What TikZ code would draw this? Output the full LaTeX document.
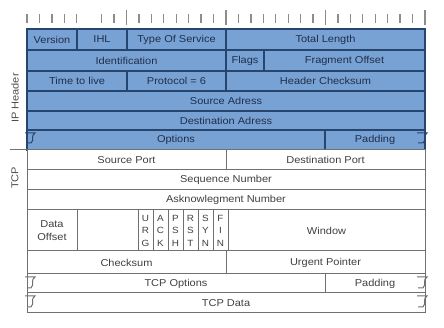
\documentclass[tikz,border=0pt]{standalone}
\usepackage{fontspec}
\setmainfont{Liberation Sans}[FakeStretch=1.1]
\definecolor{ipfill}{HTML}{78A2D4}
\definecolor{ipline}{HTML}{27466F}
\definecolor{tcpline}{HTML}{707070}
\definecolor{iptext}{HTML}{1F2F4C}
\begin{document}
\begin{tikzpicture}[x=1pt, y=-1pt,
    ipfield/.style={draw=ipline, line width=1.1pt, fill=ipfill, outer sep=0, inner sep=0, anchor=north west, text=iptext, font=\fontsize{10}{12}\selectfont},
    tcpfield/.style={draw=tcpline, line width=1pt, fill=white, outer sep=0, inner sep=0, anchor=north west, text=black!75, font=\fontsize{10}{12}\selectfont},
    flagbox/.style={tcpfield, minimum width=15pt, minimum height=41pt, align=center, font=\fontsize{9}{12.5}\selectfont},
    brk/.style={line width=1pt},
    tick/.style={draw=black!45, line width=1.3pt}]
  \useasboundingbox (0,0) rectangle (444,328);
  % bit ruler
  \foreach \b in {0,1,2,3,4,6,7,9,10,11,12,13,14,15,17,18,19,20,21,22,23,25,26,27,28,29,30,31}
    \draw[tick] (27+\b*12.4375,14) -- (27+\b*12.4375,23);
  \foreach \b in {8,16,24,32}
    \draw[tick] (27+\b*12.4375,10) -- (27+\b*12.4375,25);
  % IP header
  \node[ipfield, minimum width=50pt, minimum height=21pt] (ver) at (27,29) {Version};
  \node[ipfield, minimum width=50pt, minimum height=21pt] (ihl) at (ver.north east) {IHL};
  \node[ipfield, minimum width=99pt, minimum height=21pt] (tos) at (ihl.north east) {Type Of Service};
  \node[ipfield, minimum width=199pt, minimum height=21pt] (tlen) at (tos.north east) {Total Length};
  \node[ipfield, minimum width=199pt, minimum height=21pt] (ident) at (ver.south west) {Identification};
  \node[ipfield, minimum width=38pt, minimum height=21pt] (flags) at (ident.north east) {Flags};
  \node[ipfield, minimum width=161pt, minimum height=21pt] (frag) at (flags.north east) {Fragment Offset};
  \node[ipfield, minimum width=100pt, minimum height=20pt] (ttl) at (ident.south west) {Time to live};
  \node[ipfield, minimum width=99pt, minimum height=20pt] (proto) at (ttl.north east) {Protocol = 6};
  \node[ipfield, minimum width=199pt, minimum height=20pt] (hcsum) at (proto.north east) {Header Checksum};
  \node[ipfield, minimum width=398pt, minimum height=20pt] (src) at (ttl.south west) {Source Adress};
  \node[ipfield, minimum width=398pt, minimum height=19pt] (dst) at (src.south west) {Destination Adress};
  \node[ipfield, minimum width=298pt, minimum height=20pt] (opt) at (dst.south west) {Options};
  \node[ipfield, minimum width=100pt, minimum height=20pt] (pad) at (opt.north east) {Padding};
  % TCP header
  \node[tcpfield, minimum width=199pt, minimum height=20pt] (sport) at (opt.south west) {Source Port};
  \node[tcpfield, minimum width=199pt, minimum height=20pt] (dport) at (sport.north east) {Destination Port};
  \node[tcpfield, minimum width=398pt, minimum height=20pt] (seq) at (sport.south west) {Sequence Number};
  \node[tcpfield, minimum width=398pt, minimum height=20pt] (ack) at (seq.south west) {Asknowlegment Number};
  \node[tcpfield, minimum width=50pt, minimum height=41pt, align=center, font=\fontsize{10}{13}\selectfont] (doff) at (ack.south west) {Data\\Offset};
  \node[tcpfield, minimum width=61pt, minimum height=41pt] (resv) at (doff.north east) {};
  \node[flagbox] (urg) at (resv.north east) {U\\R\\G};
  \node[flagbox] (ackf) at (urg.north east) {A\\C\\K};
  \node[flagbox] (psh) at (ackf.north east) {P\\S\\H};
  \node[flagbox] (rst) at (psh.north east) {R\\S\\T};
  \node[flagbox] (syn) at (rst.north east) {S\\Y\\N};
  \node[flagbox] (fin) at (syn.north east) {F\\I\\N};
  \node[tcpfield, minimum width=197pt, minimum height=41pt] (win) at (fin.north east) {Window};
  \node[tcpfield, minimum width=199pt, minimum height=23pt] (csum) at (doff.south west) {Checksum};
  \node[tcpfield, minimum width=199pt, minimum height=23pt] (urgp) at (csum.north east) {Urgent Pointer};
  \node[tcpfield, minimum width=298pt, minimum height=19pt] (topt) at (csum.south west) {TCP Options};
  \node[tcpfield, minimum width=100pt, minimum height=19pt] (tpad) at (topt.north east) {Padding};
  \node[tcpfield, minimum width=398pt, minimum height=20pt] (tdata) at (topt.south west) {TCP Data};
  % break marks
  \draw[brk, draw=ipline, shift={(opt.north west)}] (-2,3) -- (8,3) .. controls (3,6) and (8,10) .. (4,13) -- (0,13);
  \draw[brk, draw=ipline, shift={(pad.north east)}] (-8,3) -- (2,3) .. controls (-3,6) and (2,10) .. (-2,13) -- (-7,13);
  \foreach \n in {topt,tdata}
    \draw[brk, draw=tcpline, shift={(\n.north west)}] (-2,3) -- (8,3) .. controls (3,6) and (8,10) .. (4,14) -- (0,14);
  \foreach \n in {tpad,tdata}
    \draw[brk, draw=tcpline, shift={(\n.north east)}] (-8,3) -- (2,3) .. controls (-3,6) and (2,10) .. (-2,14) -- (-7,14);
  % side labels
  \node[rotate=90, text=black!70, font=\fontsize{10}{12}\selectfont] (iplbl) at (15,98) {IP Header};
  \node[rotate=90, text=black!70, font=\fontsize{10}{12}\selectfont] (tcplbl) at (15,178) {TCP};
  \coordinate (sep) at (10,150);
  \draw[draw=tcpline, line width=1pt] (sep) -- (opt.south west);
\end{tikzpicture}
\end{document}
